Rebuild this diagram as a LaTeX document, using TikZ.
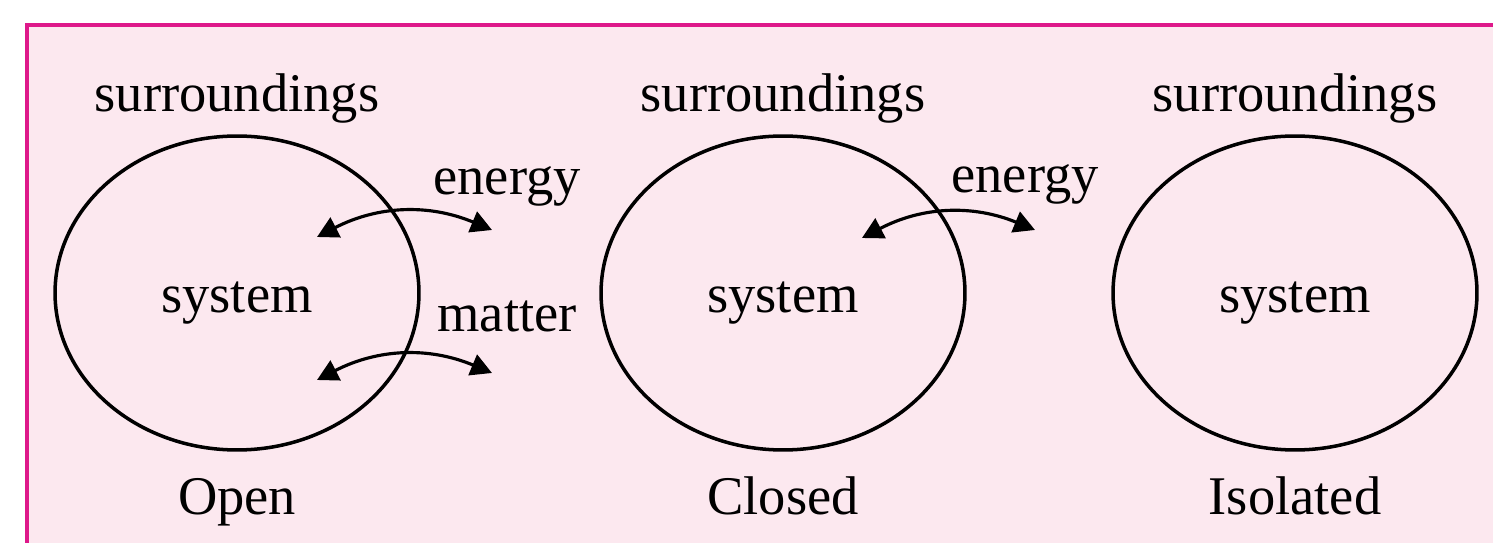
\documentclass[tikz,border=0pt]{standalone}
\usepackage{fontspec}
\setmainfont{Liberation Serif}
\usetikzlibrary{arrows.meta,positioning,shapes.geometric}
\definecolor{framepink}{RGB}{222,24,138}
\definecolor{bgpink}{RGB}{252,232,239}

\begin{document}
\begin{tikzpicture}[
  x=0.02cm, y=0.02cm,
  font=\fontsize{31}{36}\selectfont,
  sys/.style={draw, ellipse, line width=2pt, minimum width=7.28cm, minimum height=6.28cm, inner sep=0pt},
  lbl/.style={anchor=base, inner sep=0pt},
  arrow/.style={{Triangle[length=0.42cm,width=0.44cm]}-{Triangle[length=0.42cm,width=0.44cm]}, line width=1.8pt}
]
\useasboundingbox (0,0) rectangle (1493,-543);
\draw[framepink, fill=bgpink, line width=2.6pt] (27,-25) rectangle (1540,-590);

\node[sys] (open) at (237,-293) {};
\node[sys] (closed) at (783,-293) {};
\node[sys] (isolated) at (1295,-293) {};

\node[lbl] (sysopen) at (237,-313) {system};
\node[lbl] (sysclosed) at (783,-313) {system};
\node[lbl] (sysisolated) at (1295,-313) {system};

\node[lbl] (suropen) at (237,-112) {surroundings};
\node[lbl] (surclosed) at (783,-112) {surroundings};
\node[lbl] (surisolated) at (1295,-112) {surroundings};

\node[lbl] (nameopen) at (237,-514) {Open};
\node[lbl] (nameclosed) at (783,-514) {Closed};
\node[lbl] (nameisolated) at (1295,-514) {Isolated};

\node[lbl] (enopen) at (507,-195) {energy};
\node[lbl] (maopen) at (507,-332) {matter};
\node[lbl] (enclosed) at (1025,-193) {energy};

\coordinate (oeL) at (317,-237);
\coordinate (oeR) at (492,-230);
\coordinate (omL) at (317,-380);
\coordinate (omR) at (492,-373);
\coordinate (ceL) at (862,-238);
\coordinate (ceR) at (1035,-230);

\draw[arrow] (oeL) to[bend left=25] (oeR);
\draw[arrow] (omL) to[bend left=25] (omR);
\draw[arrow] (ceL) to[bend left=25] (ceR);
\end{tikzpicture}
\end{document}
